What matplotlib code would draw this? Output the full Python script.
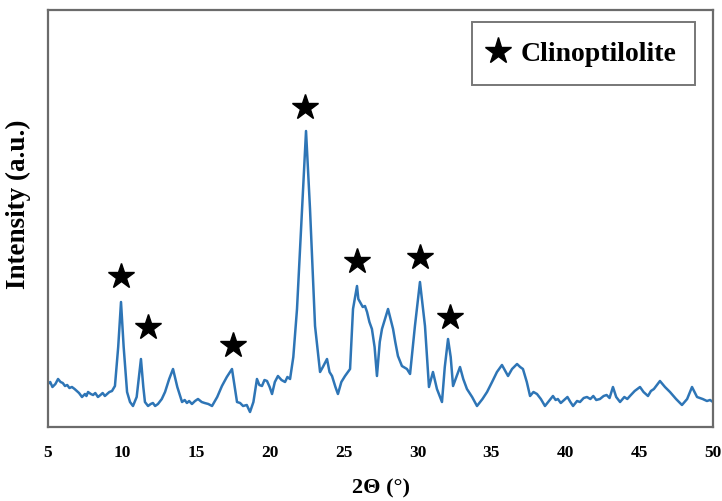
import matplotlib
matplotlib.use("Agg")
import matplotlib.pyplot as plt
from matplotlib.lines import Line2D

two_theta = [5.00, 5.15, 5.30, 5.50, 5.68, 5.85, 6.00, 6.15, 6.30, 6.45, 6.62, 6.80, 6.95, 7.10,
             7.30, 7.50, 7.60, 7.71, 7.90, 8.05, 8.20, 8.38, 8.55, 8.70, 8.85, 9.00, 9.15,
             9.33, 9.53, 9.75, 9.94, 10.12, 10.35, 10.55, 10.75, 11.00, 11.29, 11.45, 11.56,
             11.77, 11.95, 12.10, 12.25, 12.44, 12.70, 12.92, 13.20, 13.46, 13.75, 14.07, 14.25,
             14.40, 14.55, 14.74, 14.95, 15.15, 15.40, 15.60, 15.85, 16.10, 16.45, 16.77, 17.10,
             17.45, 17.79, 18.00, 18.20, 18.45, 18.67, 18.90, 19.14, 19.30, 19.48, 19.65, 19.82,
             20.00, 20.16, 20.35, 20.56, 20.80, 21.04, 21.20, 21.38, 21.60, 21.85, 22.19, 22.46,
             22.73, 23.07, 23.41, 23.60, 23.88, 24.05, 24.22, 24.45, 24.62, 24.85, 25.10, 25.44,
             25.64, 25.91, 26.00, 26.11, 26.30, 26.45, 26.59, 26.75, 26.92, 27.10, 27.26, 27.45,
             27.60, 28.01, 28.35, 28.50, 28.68, 28.95, 29.29, 29.50, 29.83, 30.17, 30.51, 30.78,
             31.05, 31.32, 31.66, 31.85, 32.07, 32.25, 32.41, 32.88, 33.10, 33.35, 33.70, 34.03,
             34.40, 34.71, 35.05, 35.38, 35.72, 36.13, 36.40, 36.74, 36.95, 37.14, 37.40, 37.62,
             37.85, 38.09, 38.35, 38.63, 38.90, 39.17, 39.35, 39.50, 39.70, 39.85, 40.15, 40.35,
             40.53, 40.80, 41.00, 41.25, 41.47, 41.70, 41.90, 42.10, 42.35, 42.60, 42.80, 43.00,
             43.23, 43.45, 43.71, 44.00, 44.20, 44.38, 44.70, 45.06, 45.30, 45.60, 45.80, 46.00,
             46.41, 46.75, 47.09, 47.50, 47.90, 48.25, 48.58, 48.92, 49.10, 49.30, 49.59, 49.80,
             50.00]

intensity = [43, 45, 40, 43, 48, 45, 44, 41, 42, 39, 40, 38, 36, 34,
             30, 33, 31, 35, 33, 32, 34, 30, 32, 34, 31, 33, 35,
             36, 41, 80, 125, 80, 35, 25, 21, 30, 68, 40, 25,
             21, 23, 24, 21, 23, 28, 35, 48, 58, 40, 25, 27,
             24, 26, 23, 26, 28, 25, 24, 23, 21, 30, 41, 50,
             58, 25, 24, 21, 22, 15, 25, 48, 42, 41, 47, 46,
             40, 33, 45, 51, 47, 45, 50, 48, 70, 118, 218, 296,
             218, 101, 55, 60, 68, 55, 51, 40, 33, 45, 51, 58,
             118, 141, 128, 125, 120, 121, 115, 105, 98, 80, 51, 85,
             98, 118, 98, 85, 71, 61, 58, 53, 101, 145, 101, 40,
             55, 38, 25, 60, 88, 70, 41, 60, 48, 38, 30, 21,
             28, 35, 45, 55, 62, 51, 58, 63, 60, 58, 45, 31,
             35, 33, 28, 21, 26, 31, 27, 28, 24, 26, 30, 25,
             21, 26, 25, 29, 30, 28, 31, 27, 28, 31, 32, 29,
             40, 30, 25, 30, 28, 31, 36, 40, 35, 31, 36, 38,
             46, 40, 35, 28, 22, 28, 40, 30, 29, 28, 26, 27,
             25]

star_x = [9.94, 11.77, 17.5, 22.4, 25.9, 30.17, 32.2]
star_y = [151, 100, 82, 320, 166, 170, 110]

x_ticks = [5, 10, 15, 20, 25, 30, 35, 40, 45, 50]
legend_label = "Clinoptilolite"

serif = ["Liberation Serif", "DejaVu Serif"]
line_color = "#2E75B6"
spine_color = "#6b6b6b"

fig = plt.figure(figsize=(7.22, 5.02), dpi=100)
ax = fig.add_axes([48 / 722, (502 - 428) / 502, (713 - 48) / 722, (428 - 11) / 502])

ax.plot(two_theta, intensity, color=line_color, lw=1.8, solid_joinstyle="round")
ax.plot(star_x, star_y, ls="none", marker="*", color="black", markersize=19)

ax.set_xlim(5, 50)
ax.set_ylim(0, 417)
ax.set_xticks(x_ticks)
ax.set_xticklabels([str(t) for t in x_ticks], family=serif, fontweight="bold", fontsize=12.5)
ax.set_yticks([])
ax.tick_params(axis="x", length=0, pad=12)

for s in ax.spines.values():
    s.set_color(spine_color)
    s.set_linewidth(1.6)

ax.set_xlabel("2Θ (°)", family=serif, fontweight="bold", fontsize=16, labelpad=13)
ax.set_ylabel("Intensity (a.u.)", family=serif, fontweight="bold", fontsize=19.5)
ax.yaxis.set_label_coords(-0.025, 0.537)

handle = Line2D([], [], ls="none", marker="*", color="black", markersize=20)
leg = ax.legend([handle], [legend_label], loc="upper right",
                bbox_to_anchor=((695 - 48) / 665, (428 - 23) / 417),
                borderaxespad=0, frameon=True, fancybox=False,
                prop={"family": serif, "weight": "bold", "size": 20},
                handlelength=0.5, handletextpad=0.55, borderpad=0.68)
leg.get_frame().set_edgecolor("#555555")
leg.get_frame().set_linewidth(1.4)

fig.savefig("out.png", dpi=100)
